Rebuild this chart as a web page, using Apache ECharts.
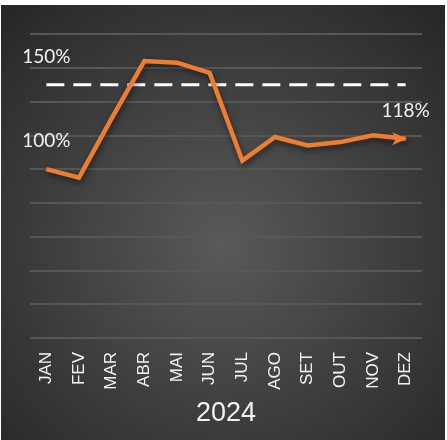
<!DOCTYPE html>
<html>
<head>
<meta charset="utf-8">
<script src="https://cdn.jsdelivr.net/npm/echarts@6/dist/echarts.min.js"></script>
<style>
html,body{margin:0;padding:0;background:#fff;}
#c{position:absolute;left:1px;top:5px;width:444px;height:435px;}
</style>
</head>
<body>
<div id="c"></div>
<script>
var months = ['JAN','FEV','MAR','ABR','MAI','JUN','JUL','AGO','SET','OUT','NOV','DEZ'];
var values = [100, 95, 130, 164, 163, 157, 105, 119, 114, 116, 120, 118];
var target = [150, 150, 150, 150, 150, 150, 150, 150, 150, 150, 150, 150];
var yTicks = {min: 0, max: 180, interval: 20};
var yearLabel = '2024';

var chart = echarts.init(document.getElementById('c'));
var labelFont = {color: '#f2f2f2', fontSize: 19, fontFamily: 'Lato', position: 'top'};
function labelled(v) {
  return {
    value: v,
    label: Object.assign({show: true, formatter: '{c}%', distance: 18}, labelFont)
  };
}
var lineData = values.map(function (v, i) {
  if (i === 0) return labelled(v);
  if (i === values.length - 1) {
    return {
      value: v,
      label: Object.assign({show: true, formatter: '{c}%', offset: [6, 0], distance: 12}, labelFont),
      symbol: 'path://M0,0L14,6L0,12L3.5,6Z',
      symbolSize: [15, 13],
      symbolOffset: [-6, 0],
      itemStyle: {color: '#ED7D31'}
    };
  }
  return {value: v};
});
var targetData = target.map(function (v, i) {
  if (i === 0) return labelled(v);
  return {value: v};
});

chart.setOption({
  backgroundColor: {
    type: 'radial', x: 0.5, y: 0.55, r: 0.75,
    colorStops: [{offset: 0, color: '#595959'}, {offset: 1, color: '#262626'}]
  },
  animation: false,
  grid: {left: 29, right: 23, top: 29, bottom: 102},
  xAxis: {
    type: 'category',
    data: months,
    boundaryGap: true,
    axisLine: {show: false},
    axisTick: {show: false},
    axisLabel: {rotate: 90, color: '#f2f2f2', fontSize: 17, fontFamily: 'Liberation Sans', margin: 14},
    name: yearLabel,
    nameLocation: 'middle',
    nameGap: 62,
    nameMoveOverlap: false,
    nameTextStyle: {color: '#f2f2f2', fontSize: 27, fontFamily: 'Liberation Sans'}
  },
  yAxis: {
    type: 'value',
    min: yTicks.min, max: yTicks.max, interval: yTicks.interval,
    axisLine: {show: false},
    axisTick: {show: false},
    axisLabel: {show: false},
    splitLine: {lineStyle: {color: '#575757', width: 2}}
  },
  series: [
    {
      type: 'line',
      data: targetData,
      symbol: 'circle',
      symbolSize: 1,
      showSymbol: true,
      itemStyle: {color: 'rgba(0,0,0,0)'},
      lineStyle: {color: '#ffffff', width: 3, type: [18, 9]},
      z: 2
    },
    {
      type: 'line',
      data: lineData,
      symbol: 'circle',
      symbolSize: 1,
      showSymbol: true,
      lineStyle: {color: '#ED7D31', width: 4.5, join: 'miter', shadowColor: 'rgba(0,0,0,0.55)', shadowBlur: 6, shadowOffsetY: 3, shadowOffsetX: 1},
      itemStyle: {color: 'rgba(0,0,0,0)'},
      z: 3
    }
  ]
});
</script>
</body>
</html>
